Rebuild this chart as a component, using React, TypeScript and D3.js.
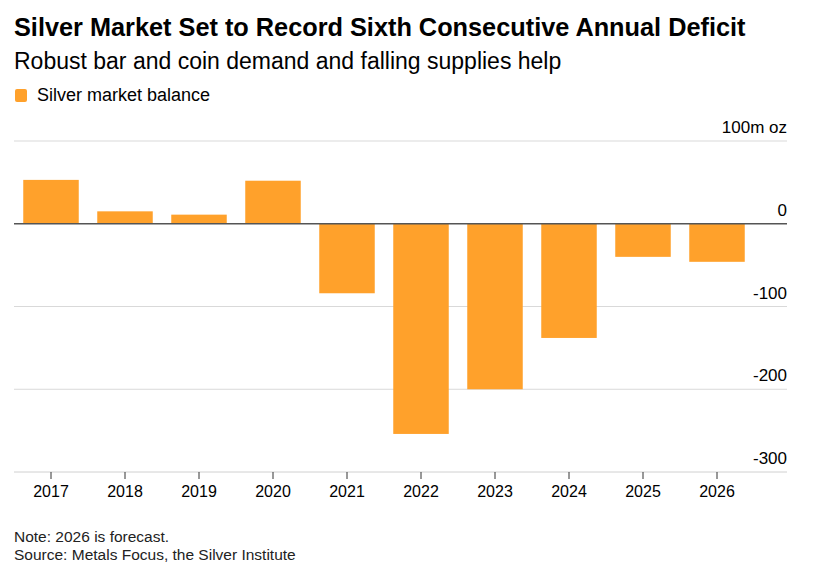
import React, { useEffect, useRef } from "react";
import * as d3 from "d3";

const years = ["2017", "2018", "2019", "2020", "2021", "2022", "2023", "2024", "2025", "2026"];
const balance = [53, 15, 11, 52, -84, -254, -200, -138, -40, -46];
const yTicks = [100, 0, -100, -200, -300];
const yTickLabels = ["100m oz", "0", "-100", "-200", "-300"];

const W = 840;
const H = 571;
const FONT = "'Liberation Sans', Arial, sans-serif";

export default function App() {
  const ref = useRef<SVGSVGElement>(null);

  useEffect(() => {
    const svg = d3.select(ref.current);
    svg.selectAll("*").remove();

    const left = 14;
    const right = 787;
    const y = d3.scaleLinear().domain([100, -300]).range([141, 472]);
    const x = d3.scaleBand().domain(years).range([14, 754]).paddingInner(0.25).paddingOuter(0.125);

    // Title
    svg.append("text").attr("x", 14).attr("y", 36).attr("font-family", FONT).attr("font-weight", "bold")
      .attr("font-size", 25.3).attr("fill", "#000").text("Silver Market Set to Record Sixth Consecutive Annual Deficit");
    svg.append("text").attr("x", 14).attr("y", 69).attr("font-family", FONT)
      .attr("font-size", 23).attr("fill", "#000").text("Robust bar and coin demand and falling supplies help");

    // Legend
    svg.append("rect").attr("x", 15).attr("y", 89).attr("width", 12).attr("height", 13).attr("rx", 2).attr("fill", "#ffa12b");
    svg.append("text").attr("x", 37).attr("y", 101).attr("font-family", FONT)
      .attr("font-size", 18).attr("fill", "#000").text("Silver market balance");

    // Gridlines
    svg.append("g").selectAll("line").data(yTicks.filter((t) => t !== 0 && t !== -300)).join("line")
      .attr("x1", left).attr("x2", right).attr("y1", (d) => y(d)).attr("y2", (d) => y(d))
      .attr("stroke", "#d9d9d9").attr("stroke-width", 1);

    // Bottom axis line
    svg.append("line").attr("x1", left).attr("x2", right).attr("y1", y(-300)).attr("y2", y(-300))
      .attr("stroke", "#d0d0d0").attr("stroke-width", 1);

    // Y labels
    svg.append("g").selectAll("text").data(yTicks).join("text")
      .attr("x", right).attr("y", (d) => y(d) - 8).attr("text-anchor", "end")
      .attr("font-family", FONT).attr("font-size", 17).attr("fill", "#000")
      .text((_, i) => yTickLabels[i]);

    // Bars
    svg.append("g").selectAll("rect").data(balance).join("rect")
      .attr("x", (_, i) => x(years[i])!)
      .attr("width", x.bandwidth())
      .attr("y", (d) => y(Math.max(0, d)))
      .attr("height", (d) => Math.abs(y(d) - y(0)))
      .attr("fill", "#ffa12b");

    // Zero line
    svg.append("line").attr("x1", left).attr("x2", right).attr("y1", y(0)).attr("y2", y(0))
      .attr("stroke", "#555").attr("stroke-width", 1.5);

    // X ticks and labels
    const xg = svg.append("g");
    xg.selectAll("line").data(years).join("line")
      .attr("x1", (d) => x(d)! + x.bandwidth() / 2).attr("x2", (d) => x(d)! + x.bandwidth() / 2)
      .attr("y1", y(-300)).attr("y2", y(-300) + 7).attr("stroke", "#333").attr("stroke-width", 1);
    xg.selectAll("text").data(years).join("text")
      .attr("x", (d) => x(d)! + x.bandwidth() / 2).attr("y", y(-300) + 25)
      .attr("text-anchor", "middle").attr("font-family", FONT).attr("font-size", 16).attr("fill", "#000")
      .text((d) => d);

    // Footer
    svg.append("text").attr("x", 14).attr("y", 542).attr("font-family", FONT).attr("font-size", 15.5)
      .attr("fill", "#222").text("Note: 2026 is forecast.");
    svg.append("text").attr("x", 14).attr("y", 560).attr("font-family", FONT).attr("font-size", 15.5)
      .attr("fill", "#222").text("Source: Metals Focus, the Silver Institute");
  }, []);

  return (
    <svg
      ref={ref}
      width={W}
      height={H}
      style={{ position: "absolute", left: 0, top: 0, background: "#fff", display: "block" }}
    />
  );
}
